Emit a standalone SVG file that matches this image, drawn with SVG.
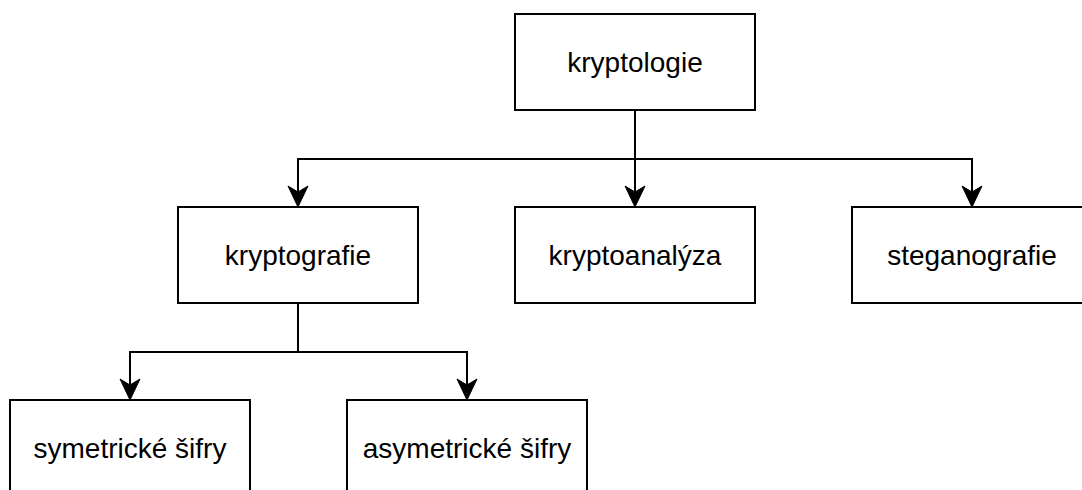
<svg xmlns="http://www.w3.org/2000/svg" width="1082" height="490" viewBox="0 0 1082 490">
  <style>
    .box { fill: #ffffff; stroke: #000000; stroke-width: 2; }
    .lbl { font-family: "Liberation Sans", Arial, Helvetica, sans-serif; font-size: 28px; fill: #000000; text-anchor: middle; }
    .edge { fill: none; stroke: #000000; stroke-width: 2; marker-end: url(#arrow); }
  </style>
  <defs>
    <marker id="arrow" markerUnits="userSpaceOnUse" viewBox="-10 -12 30 24" refX="0" refY="0" markerWidth="30" markerHeight="24" orient="auto" overflow="visible">
      <path d="M15,0 L-6,-10 L0,0 L-6,10 Z" fill="#000000" stroke="#000000" stroke-width="1" stroke-linejoin="miter"/>
    </marker>
  </defs>
  <rect width="1082" height="490" fill="#ffffff"/>
  <g id="connectors">
    <path class="edge" d="M635,110 V192"/>
    <path class="edge" d="M635,159 H298 V192"/>
    <path class="edge" d="M635,159 H972 V192"/>
    <path class="edge" d="M298,303 V352 H130 V385"/>
    <path class="edge" d="M298,352 H467 V385"/>
  </g>
  <g id="kryptologie">
    <rect class="box" x="515" y="14" width="240" height="96"/>
    <text class="lbl" x="635" y="72">kryptologie</text>
  </g>
  <g id="kryptografie">
    <rect class="box" x="178" y="207" width="240" height="96"/>
    <text class="lbl" x="298" y="265">kryptografie</text>
  </g>
  <g id="kryptoanalyza">
    <rect class="box" x="515" y="207" width="240" height="96"/>
    <text class="lbl" x="635" y="265">kryptoanalýza</text>
  </g>
  <g id="steganografie">
    <rect class="box" x="852" y="207" width="240" height="96"/>
    <text class="lbl" x="972" y="265">steganografie</text>
  </g>
  <g id="symetricke">
    <rect class="box" x="10" y="400" width="240" height="96"/>
    <text class="lbl" x="130" y="458">symetrické šifry</text>
  </g>
  <g id="asymetricke">
    <rect class="box" x="347" y="400" width="240" height="96"/>
    <text class="lbl" x="467" y="458">asymetrické šifry</text>
  </g>
</svg>
